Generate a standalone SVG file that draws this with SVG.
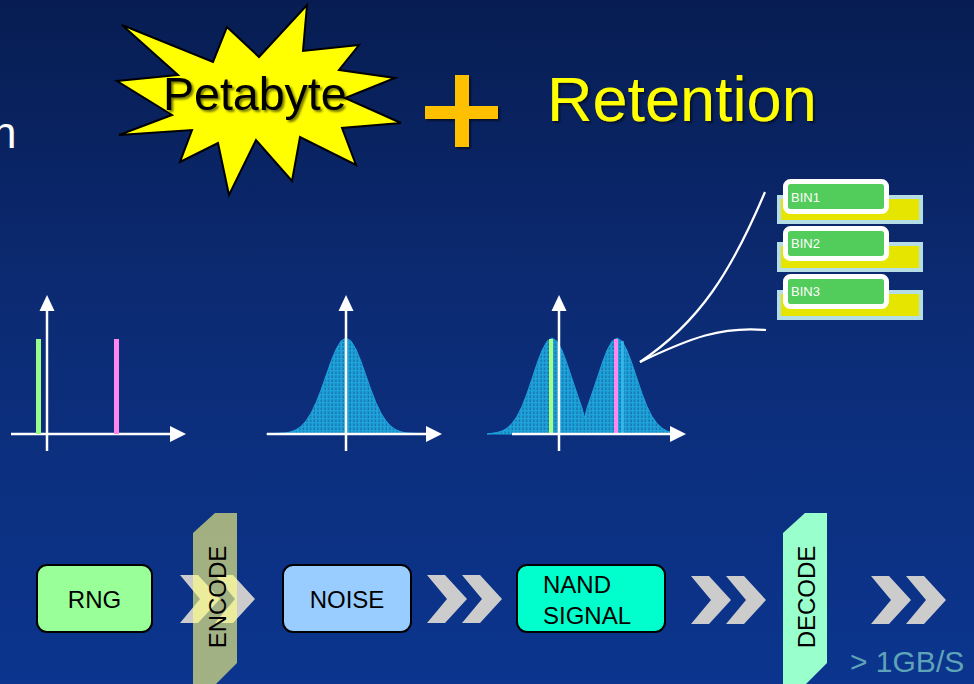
<svg xmlns="http://www.w3.org/2000/svg" width="974" height="684" viewBox="0 0 974 684">
<defs>
<linearGradient id="bg" x1="0" y1="0" x2="0" y2="1">
<stop offset="0" stop-color="#071d52"/>
<stop offset="0.45" stop-color="#0c2b74"/>
<stop offset="1" stop-color="#0b358e"/>
</linearGradient>
<pattern id="dash" width="3.6" height="4" patternUnits="userSpaceOnUse">
<rect width="3.6" height="4" fill="#1ea2dc"/>
<line x1="1" y1="0" x2="1" y2="4" stroke="#0a2850" stroke-width="0.8" stroke-dasharray="2 1.4" opacity="0.7"/>
</pattern>
<filter id="sh" x="-10%" y="-10%" width="130%" height="140%">
<feDropShadow dx="2" dy="2" stdDeviation="1.2" flood-color="#000" flood-opacity="0.55"/>
</filter>
<polygon id="chev" points="0,0 18,0 40,24 18,48 0,48 20,24"/>
<style>
.ax{stroke:#fff;stroke-width:2.5;fill:none}
.ah{fill:#fff}
.box{stroke:#000;stroke-width:2}
.lbl{font-family:"Liberation Sans",Arial,sans-serif;font-size:24px;fill:#000}
.chev{fill:#cccccc}
.bin{fill:#e5e500;stroke:#b4dde6;stroke-width:4}
.binf{fill:#52cc5a;stroke:#fff;stroke-width:5}
.bint{font-family:"Liberation Sans",Arial,sans-serif;font-size:13px;fill:#fff}
.curve{stroke:#fff;stroke-width:2.2;fill:none}
</style>
</defs>
<rect width="974" height="684" fill="url(#bg)"/>

<text x="-8" y="148" font-family="Liberation Sans, Arial, sans-serif" font-size="44" fill="#fff">n</text>

<g id="petabyte">
<polygon points="122,25 213,62 227,27 259,57 307,5 303,51 359,45 339,70 395,78 345,98 401,123 342,128 356,165 300,137 292,181 256,140 229,195 218,143 180,162 192,130 119,135 172,115 117,81 178,75" fill="#ffff00" stroke="#000" stroke-width="2" stroke-linejoin="miter"/>
<text x="163" y="110" font-family="Liberation Sans, Arial, sans-serif" font-size="46.5" fill="#000" filter="url(#sh)">Petabyte</text>
</g>

<g id="plus" filter="url(#sh)">
<rect x="425" y="106" width="73" height="13" fill="#ffc000"/>
<rect x="455" y="75" width="14" height="72" fill="#ffc000"/>
</g>

<g id="retention">
<text x="547" y="121" font-family="Liberation Sans, Arial, sans-serif" font-size="63" fill="#ffff00" filter="url(#sh)">Retention</text>
</g>

<g id="chart1">
<line class="ax" x1="11" y1="434" x2="172" y2="434"/>
<polygon class="ah" points="170,426 186,434 170,442"/>
<line class="ax" x1="47" y1="451" x2="47" y2="308"/>
<polygon class="ah" points="39.5,311 47,295 54.5,311"/>
<rect x="36" y="339" width="5" height="95" fill="#99ff88"/>
<rect x="114" y="339" width="5" height="95" fill="#ff88ee"/>
</g>

<g id="chart2">
<path d="M266,434 L286,432.9 L291,431.8 L296,429.8 L301,426.4 L306,421 L311,413.2 L316,402.8 L321,390.1 L326,375.8 L331,361.5 L336,349.3 L341,341 L346,338 L351,341 L356,349.3 L361,361.5 L366,375.8 L371,390.1 L376,402.8 L381,413.2 L386,421 L391,426.4 L396,429.8 L401,431.8 L406,432.9 L426,434 Z" fill="url(#dash)" stroke="#1ea2dc" stroke-width="1"/>
<line class="ax" x1="267" y1="434" x2="428" y2="434"/>
<polygon class="ah" points="426,426 442,434 426,442"/>
<line class="ax" x1="346" y1="451" x2="346" y2="308"/>
<polygon class="ah" points="338.5,311 346,295 353.5,311"/>
</g>

<g id="chart3">
<path d="M487,434 L492,433.3 L497,432.5 L502,431 L507,428.2 L512,423.5 L517,416.4 L522,406.4 L527,393.6 L532,378.8 L537,363.7 L542,350.4 L547,341.3 L552,338 L557,341.3 L562,350.4 L567,363.7 L572,378.8 L577,393.6 L582,408 L584.5,418 L587,408 L592,393.6 L597,378.8 L602,363.7 L607,350.4 L612,341.3 L617,338 L622,341.3 L627,350.4 L632,363.7 L637,378.8 L642,393.6 L647,406.4 L652,416.4 L657,423.5 L662,428.2 L667,431 L672,432.5 L677,433.3 L684,434 Z" fill="url(#dash)" stroke="#1ea2dc" stroke-width="1"/>
<rect x="549" y="339" width="4" height="95" fill="#a6ff80"/>
<rect x="614" y="339" width="4" height="95" fill="#ff88ee"/>
<rect x="621" y="341" width="3" height="93" fill="#3cc0ee" opacity="0.7"/>
<line class="ax" x1="512" y1="434" x2="672" y2="434"/>
<polygon class="ah" points="670,426 686,434 670,442"/>
<line class="ax" x1="559" y1="451" x2="559" y2="308"/>
<polygon class="ah" points="551.5,311 559,295 566.5,311"/>
</g>

<g id="connectors">
<path class="curve" d="M640,362 C700,322 732,270 765,192"/>
<path class="curve" d="M640,362 C690,338 722,326 766,330"/>
</g>

<g id="bin1">
<rect class="bin" x="779" y="197" width="142" height="25"/>
<rect class="binf" x="785.5" y="181.5" width="101" height="30" rx="5"/>
<text class="bint" x="791" y="202">BIN1</text>
</g>
<g id="bin2">
<rect class="bin" x="779" y="244" width="142" height="26"/>
<rect class="binf" x="785.5" y="228.5" width="101" height="30" rx="5"/>
<text class="bint" x="791" y="248">BIN2</text>
</g>
<g id="bin3">
<rect class="bin" x="779" y="292" width="142" height="26"/>
<rect class="binf" x="785.5" y="276.5" width="101" height="30" rx="5"/>
<text class="bint" x="791" y="296">BIN3</text>
</g>

<g id="arrows">
<use href="#chev" class="chev" x="180" y="575"/>
<use href="#chev" class="chev" x="215" y="575"/>
<use href="#chev" class="chev" x="427" y="575"/>
<use href="#chev" class="chev" x="462" y="575"/>
<use href="#chev" class="chev" x="691" y="576"/>
<use href="#chev" class="chev" x="726" y="576"/>
<use href="#chev" class="chev" x="871" y="576"/>
<use href="#chev" class="chev" x="906" y="576"/>
</g>

<g id="rng">
<rect class="box" x="37" y="565" width="115" height="67" rx="10" fill="#99ff99"/>
<text class="lbl" x="94.5" y="608" text-anchor="middle">RNG</text>
</g>

<g id="encode">
<polygon points="215,513 237,513 237,663 215,685 193,685 193,533" fill="#ffff80" fill-opacity="0.62"/>
<text class="lbl" transform="translate(226,597) rotate(-90)" text-anchor="middle">ENCODE</text>
</g>

<g id="noise">
<rect class="box" x="283" y="565" width="128" height="67" rx="10" fill="#99ccff"/>
<text class="lbl" x="347" y="608" text-anchor="middle">NOISE</text>
</g>

<g id="nand">
<rect class="box" x="517" y="565" width="148" height="67" rx="10" fill="#00ffcc"/>
<text class="lbl" x="543" y="593">NAND</text>
<text class="lbl" x="543" y="624">SIGNAL</text>
</g>

<g id="decode">
<polygon points="805,513 827,513 827,663 805,685 783,685 783,533" fill="#99ffcc"/>
<text class="lbl" transform="translate(815,597) rotate(-90)" text-anchor="middle">DECODE</text>
</g>

<text x="850" y="672" font-family="Liberation Sans, Arial, sans-serif" font-size="30" fill="#5fa3b8">&gt; 1GB/S</text>
</svg>
